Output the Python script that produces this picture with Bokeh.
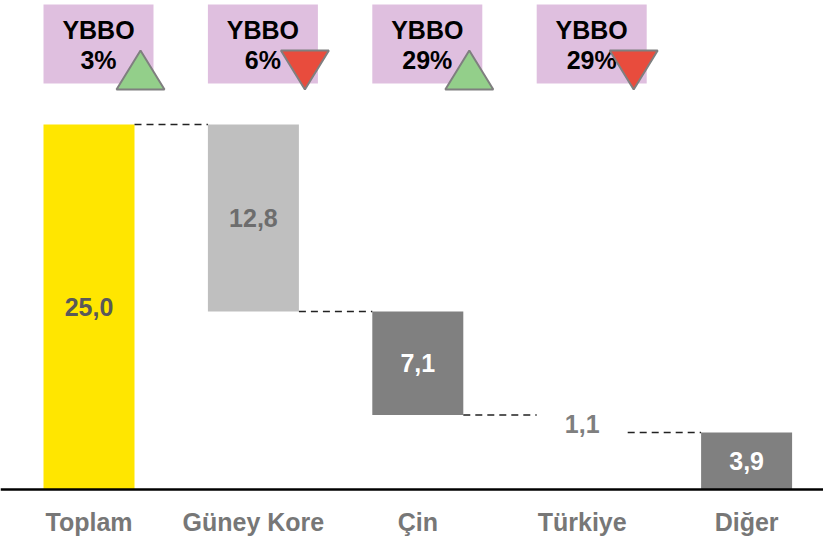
from bokeh.plotting import figure
from bokeh.models import Range1d, Span
from bokeh.core.properties import value
from bokeh.embed import file_html
from bokeh.resources import INLINE

# ---- data ----
categories = ["Toplam", "Güney Kore", "Çin", "Türkiye", "Diğer"]
values = [25.0, 12.8, 7.1, 1.1, 3.9]
value_labels = ["25,0", "12,8", "7,1", "1,1", "3,9"]
badge_categories = ["Toplam", "Güney Kore", "Çin", "Türkiye"]
badge_title = ["YBBO", "YBBO", "YBBO", "YBBO"]
badge_pct = ["3%", "6%", "29%", "29%"]
badge_dir = ["up", "down", "up", "down"]

# ---- styles ----
bar_colors = ["#FFE600", "#BFBFBF", "#808080", None, "#808080"]
label_colors = ["#595959", "#6d6d6d", "#ffffff", "#7f7f7f", "#ffffff"]
FONT = value("Liberation Sans")
FS = "25px"
W, H = 823, 538
PX_X = 164.4          # px per category step
PX_Y = 14.6           # px per unit
X0_PX = 88.5          # px of first category centre within frame
Y0_PX = 489           # px of value 0 from frame top
BAR_W = 91 / PX_X
BOX_W = 110 / PX_X

x_start = -X0_PX / PX_X
x_end = (W - X0_PX) / PX_X
y_end = Y0_PX / PX_Y
y_start = -(H - Y0_PX) / PX_Y

p = figure(width=W, height=H, output_backend="svg", toolbar_location=None,
           x_range=Range1d(x_start, x_end), y_range=Range1d(y_start, y_end),
           min_border=0, outline_line_color=None)
p.axis.visible = False
p.grid.visible = False

# waterfall geometry
xs = list(range(len(categories)))
tops, bottoms = [], []
running = values[0]
for i, v in enumerate(values):
    if i == 0:
        tops.append(v); bottoms.append(0.0)
    elif i == len(values) - 1:
        tops.append(v); bottoms.append(0.0)
    else:
        tops.append(running); bottoms.append(running - v)
        running -= v

for i in xs:
    if bar_colors[i] is not None:
        p.vbar(x=[i], top=[tops[i]], bottom=[bottoms[i]], width=BAR_W,
               fill_color=bar_colors[i], line_color=None)

# connectors
for i in range(len(xs) - 1):
    p.segment(x0=[i + BAR_W / 2], x1=[i + 1 - BAR_W / 2],
              y0=[tops[i + 1]], y1=[tops[i + 1]],
              line_color="#222222", line_width=1.5, line_dash="7 5")

# value labels
mids = [(t + b) / 2 for t, b in zip(tops, bottoms)]
mids[3] = (bottoms[2] + tops[4]) / 2
p.text(x=xs, y=mids, text=value_labels, text_color=label_colors,
       text_font=FONT, text_font_style="bold", text_font_size=FS,
       text_align="center", text_baseline="middle")

# baseline
p.add_layout(Span(location=0, dimension="width", line_color="#000000", line_width=2.5))

# category labels
p.text(x=xs, y=[-32 / PX_Y] * len(xs), text=categories, text_color="#777777",
       text_font=FONT, text_font_style="bold", text_font_size=FS,
       text_align="center", text_baseline="middle")

# badges
bx = [categories.index(c) for c in badge_categories]
box_left = [i - BAR_W / 2 for i in bx]
box_bottom = (Y0_PX - 83) / PX_Y
box_top = (Y0_PX - 4) / PX_Y
p.quad(left=box_left, right=[l + BOX_W for l in box_left],
       bottom=[box_bottom] * len(bx), top=[box_top] * len(bx),
       fill_color="#DFBFDF", line_color=None)
p.text(x=[l + BOX_W / 2 for l in box_left], y=[(Y0_PX - 29) / PX_Y] * len(bx),
       text=badge_title, text_color="#000000", text_font=FONT,
       text_font_style="bold", text_font_size=FS,
       text_align="center", text_baseline="middle")
p.text(x=[l + BOX_W / 2 for l in box_left], y=[(Y0_PX - 59) / PX_Y] * len(bx),
       text=badge_pct, text_color="#000000", text_font=FONT,
       text_font_style="bold", text_font_size=FS,
       text_align="center", text_baseline="middle")

tri_hw = 24 / PX_X
y_hi = (Y0_PX - 50) / PX_Y
y_lo = (Y0_PX - 89) / PX_Y
up_x, up_y, dn_x, dn_y = [], [], [], []
for l, d in zip(box_left, badge_dir):
    cx = l + 97 / PX_X
    if d == "up":
        up_x.append([cx - tri_hw, cx + tri_hw, cx]); up_y.append([y_lo, y_lo, y_hi])
    else:
        dn_x.append([cx - tri_hw, cx + tri_hw, cx]); dn_y.append([y_hi, y_hi, y_lo])
p.patches(up_x, up_y, fill_color="#93CF8A", line_color="#7f7f7f", line_width=2)
p.patches(dn_x, dn_y, fill_color="#E84C3D", line_color="#7f7f7f", line_width=2)

open("out.html", "w").write(file_html(p, INLINE))
